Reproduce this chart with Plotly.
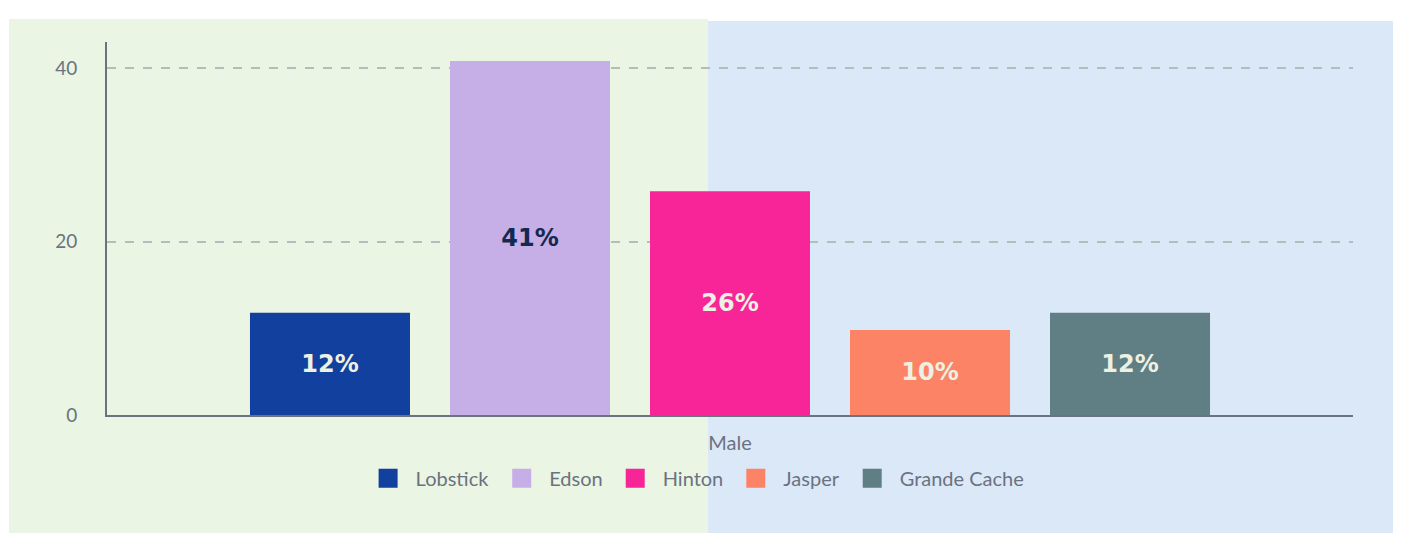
import plotly.graph_objects as go

categories = ["Male"]
series_names = ["Lobstick", "Edson", "Hinton", "Jasper", "Grande Cache"]
series_values = [11.8, 40.8, 25.8, 9.8, 11.8]
series_labels = ["12%", "41%", "26%", "10%", "12%"]
series_colors = ["#12409e", "#c6aee7", "#f72597", "#fc8366", "#607f84"]
label_colors = ["#eef0e2", "#13294f", "#eef0e2", "#eef0e2", "#eef0e2"]
y_ticks = [0, 20, 40]

fig = go.Figure()
for name, val, lab, col, lc in zip(series_names, series_values, series_labels,
                                   series_colors, label_colors):
    fig.add_trace(go.Bar(
        name=name, x=categories, y=[val], showlegend=False, legendgroup=name,
        marker=dict(color=col, line=dict(width=0)),
        text=[lab], textposition="inside", insidetextanchor="middle",
        textangle=0,
        textfont=dict(family="DejaVu Sans", size=24, color=lc, weight="bold"),
        hoverinfo="skip",
    ))
# legend entries with larger square swatches
for name, col in zip(series_names, series_colors):
    fig.add_trace(go.Scatter(
        name=name, x=[None], y=[None], mode="markers", legendgroup=name,
        marker=dict(symbol="square", size=16, color=col, line=dict(width=3, color=col)),
        hoverinfo="skip",
    ))

# background panels
fig.add_shape(type="rect", xref="paper", yref="paper", x0=-0.0786, x1=0.4823,
              y0=-0.3164, y1=1.0617, fillcolor="#eaf5e4", line=dict(width=0), layer="below")
fig.add_shape(type="rect", xref="paper", yref="paper", x0=0.4823, x1=1.0385,
              y0=-0.3164, y1=1.0563, fillcolor="#dbe8f8", line=dict(width=0), layer="below")

fig.update_layout(
    width=1393, height=527, autosize=False,
    margin=dict(l=99, r=48, t=34, b=120, autoexpand=False),
    paper_bgcolor="white", plot_bgcolor="rgba(0,0,0,0)",
    barmode="group", bargap=0.1974, bargroupgap=0.2,
    showlegend=True,
    legend=dict(orientation="h", xref="paper", x=0.472, xanchor="center",
                yref="paper", y=-0.117, yanchor="top",
                font=dict(family="Lato", size=20, color="#6b7280"),
                itemwidth=45, bgcolor="rgba(0,0,0,0)"),
    font=dict(family="Lato", color="#6b7280"),
)
fig.update_xaxes(showline=True, linecolor="#6b7280", linewidth=2, showgrid=False,
                 tickfont=dict(family="Lato", size=20, color="#6b7280"),
                 ticklabelstandoff=9, zeroline=False, fixedrange=True)
fig.update_yaxes(range=[0, 43], tickvals=y_ticks, showline=True, linecolor="#6b7280",
                 linewidth=2, showgrid=True, gridcolor="#b4bcbc", griddash="dash",
                 gridwidth=2, zeroline=False,
                 tickfont=dict(family="Lato", size=19, color="#6b7280"),
                 ticklabelstandoff=24, fixedrange=True)

fig.write_html("out.html")
